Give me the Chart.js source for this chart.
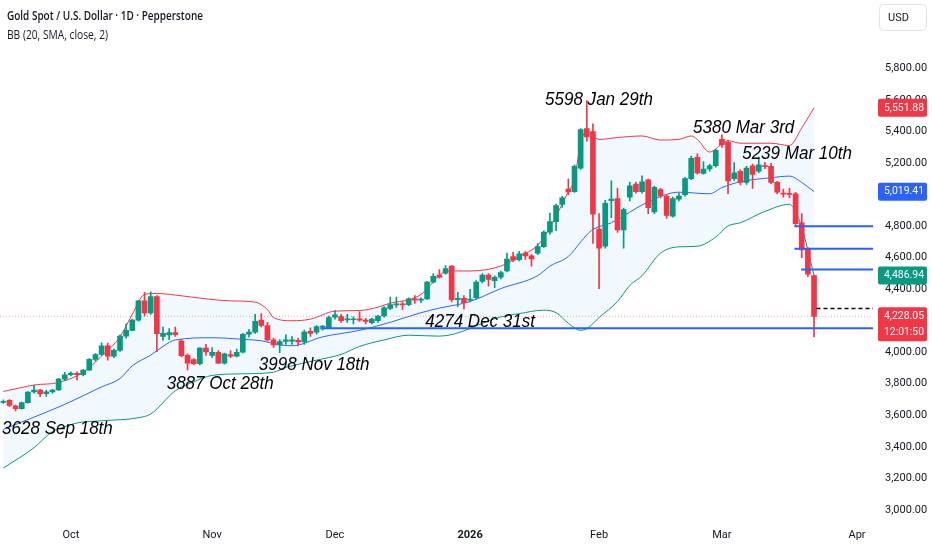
<!DOCTYPE html>
<html>
<head>
<meta charset="utf-8">
<title>Gold Spot / U.S. Dollar · 1D · Pepperstone</title>
<script src="https://cdn.jsdelivr.net/npm/chart.js@4.4.1/dist/chart.umd.min.js"></script>
<style>
  html, body { margin: 0; padding: 0; background: #fff; }
  #wrap { position: relative; width: 932px; height: 550px; }
</style>
</head>
<body>
<div id="wrap"><canvas id="goldChart"></canvas></div>
<script>
// trading days shown on the time axis (weekends, Dec 25 and Jan 1 skipped)
const sepDays = [16,17,18,19,22,23,24,25,26,29,30];
const octDays = [1,2,3,6,7,8,9,10,13,14,15,16,17,20,21,22,23,24,27,28,29,30,31];
const novDays = [3,4,5,6,7,10,11,12,13,14,17,18,19,20,21,24,25,26,27,28];
const decDays = [1,2,3,4,5,8,9,10,11,12,15,16,17,18,19,22,23,24,26,29,30,31];
const janDays = [2,5,6,7,8,9,12,13,14,15,16,19,20,21,22,23,26,27,28,29,30];
const febDays = [2,3,4,5,6,9,10,11,12,13,16,17,18,19,20,23,24,25,26,27];
const marDays = [2,3,4,5,6,9,10,11,12,13,16,17,18,19,20,23,24,25,26,27,30,31];
const aprDays = [1,2,3];
const monthNames = ['Jan','Feb','Mar','Apr','May','Jun','Jul','Aug','Sep','Oct','Nov','Dec'];

// daily candles, Sep 16 2025 .. Mar 23 2026
const opens = [
  3682,3694,3659,3642,3680,3748,3760,3737,3748,3761,
  3829,3857,3866,3857,3886,3955,3986,4041,3975,4012,
  4102,4139,4204,4326,4250,4353,4100,4110,4125,4073,
  3980,3953,3928,4027,3980,4000,3931,3985,3975,4000,
  4114,4128,4204,4170,4078,4047,4068,4070,4075,4065,
  4133,4128,4160,4155,4222,4226,4205,4206,4212,4204,
  4188,4200,4230,4278,4300,4308,4302,4339,4330,4338,
  4445,4490,4502,4547,4333,4343,4330,4347,4449,4490,
  4455,4476,4516,4608,4588,4629,4612,4629,4670,4762,
  4829,4939,5035,5020,5169,5420,5400,4782,4674,4962,
  4976,4776,4984,5067,5020,5094,4890,5033,4992,4863,
  4972,5000,5102,5237,5135,5163,5184,5351,5333,5102,
  5149,5078,5184,5149,5185,5180,5078,5010,5008,5006,
  4822,4659,4486
];
const highs = [
  3698,3700,3665,3684,3750,3790,3765,3760,3765,3835,
  3872,3875,3875,3890,3960,3992,4060,4058,4020,4110,
  4180,4210,4330,4380,4384,4360,4160,4150,4160,4080,
  3990,3960,4030,4050,4030,4010,3995,4010,4020,4120,
  4145,4240,4245,4190,4090,4080,4110,4100,4090,4140,
  4155,4170,4170,4230,4265,4240,4240,4225,4258,4215,
  4215,4235,4290,4350,4350,4320,4345,4360,4345,4450,
  4500,4525,4550,4550,4380,4360,4400,4455,4500,4500,
  4485,4515,4630,4635,4640,4640,4620,4690,4770,4884,
  4940,4990,5100,5190,5420,5598,5450,4880,4965,5088,
  5040,4915,5078,5080,5120,5100,5055,5040,5000,4985,
  5010,5110,5245,5260,5210,5195,5290,5380,5345,5204,
  5160,5180,5195,5239,5205,5200,5085,5035,5040,5015,
  4880,4665,4490
];
const lows = [
  3675,3655,3628,3638,3676,3740,3718,3720,3740,3758,
  3820,3850,3822,3850,3884,3945,3980,3950,3965,4005,
  4090,4135,4198,4230,4240,4004,4075,4080,4100,3970,
  3887,3920,3920,3980,3965,3928,3925,3965,3970,3995,
  4095,4120,4160,4070,4030,3998,4050,4050,4040,4050,
  4100,4115,4140,4150,4210,4190,4190,4180,4195,4180,
  4180,4190,4222,4270,4285,4270,4295,4310,4315,4335,
  4440,4470,4495,4320,4290,4274,4320,4340,4440,4420,
  4410,4465,4510,4575,4580,4590,4547,4620,4665,4750,
  4771,4920,5000,5015,5160,5340,4690,4404,4660,4855,
  4760,4660,4960,5010,5010,4880,4880,4980,4850,4858,
  4960,4990,5095,5130,5130,5150,5175,5300,5006,5090,
  5062,5065,5040,5140,5165,5070,5005,4985,4980,4805,
  4600,4480,4098
];
const closes = [
  3688,3662,3642,3680,3747,3760,3736,3748,3760,3829,
  3857,3866,3857,3886,3955,3985,4041,3975,4012,4102,
  4139,4204,4326,4250,4353,4118,4120,4125,4112,3978,
  3930,3928,4027,4002,4000,3931,3990,3975,4000,4114,
  4128,4196,4170,4078,4047,4067,4078,4078,4065,4128,
  4120,4163,4165,4220,4237,4200,4212,4212,4204,4195,
  4210,4230,4282,4302,4308,4300,4339,4330,4338,4445,
  4482,4476,4531,4333,4343,4315,4338,4445,4490,4462,
  4476,4506,4592,4584,4624,4612,4592,4670,4762,4829,
  4931,4980,5018,5180,5414,5367,4877,4660,4945,4972,
  4776,4905,5057,5020,5082,4918,5047,4992,4869,4976,
  4992,5102,5231,5139,5163,5184,5282,5318,5088,5139,
  5078,5169,5129,5190,5178,5078,5016,5004,5002,4816,
  4649,4496,4228.05
];

// Bollinger Bands (20, SMA, close, 2): [candle index, price]
const bbUpper = [
  [0,3751],[3,3776],[5,3792],[9,3808],[13,3873],[16,3976],[19,4098],[21,4241],[23,4367],[25,4373],
  [28,4363],[33,4339],[37,4326],[41,4318],[43,4271],[44,4220],[47,4200],[50,4210],[54,4261],[58,4265],
  [61,4286],[63,4312],[66,4333],[68,4367],[70,4445],[71,4490],[73,4516],[76,4516],[81,4547],[84,4608],
  [87,4680],[89,4792],[92,5020],[93,5098],[94,5330],[95,5400],[97,5351],[100,5363],[104,5373],[107,5347],
  [110,5351],[112,5373],[113,5351],[115,5271],[117,5322],[118,5343],[120,5327],[125,5327],[128,5312],[130,5424],
  [132,5551.88]
];
const bbBasis = [
  [0,3510],[5,3588],[10,3669],[16,3780],[19,3833],[21,3914],[24,3982],[26,4037],[28,4078],[34,4092],
  [39,4082],[42,4073],[45,4047],[47,4041],[52,4098],[58,4139],[63,4190],[68,4251],[71,4280],[76,4322],
  [81,4404],[87,4486],[89,4547],[92,4608],[94,4700],[95,4745],[96,4780],[99,4822],[105,4955],[110,5016],
  [115,5006],[117,5045],[120,5082],[125,5108],[128,5118],[130,5078],[132,5019.41]
];
const bbLower = [
  [0,3265],[5,3394],[8,3496],[10,3527],[12,3551],[16,3565],[22,3584],[24,3608],[28,3755],[31,3812],
  [34,3853],[39,3863],[44,3873],[46,3904],[47,3914],[51,3950],[55,3986],[58,4037],[62,4078],[66,4108],
  [71,4102],[81,4224],[84,4245],[88,4267],[90,4251],[92,4184],[94,4139],[95,4149],[97,4220],[100,4322],
  [102,4424],[104,4486],[107,4629],[110,4669],[113,4673],[116,4731],[118,4802],[120,4822],[124,4894],[128,4939],
  [129,4894],[130,4792],[131,4649],[132,4486.94]
];

// horizontal levels drawn on the chart
const levelPrices = [4800, 4657, 4526, 4153];
const levelFrom = [128.8, 128.8, 129.9, 51.6];
const rayPrice = 4277;
const rayFrom = 132.4;
const lastPrice = 4228.05;
const countdown = '12:01:50';

// text notes: [text, candle index, price]
const notes = [
  ['5598 Jan 29th', 88.2, 5604],
  ['5380 Mar 3rd', 112.3, 5425],
  ['5239 Mar 10th', 120.3, 5262],
  ['4274 Dec 31st', 68.7, 4196],
  ['3998 Nov 18th', 41.6, 3920],
  ['3887 Oct 28th', 26.6, 3800],
  ['3628 Sep 18th', -0.2, 3516]
];

const priceTicks = [3000,3200,3400,3600,3800,4000,4200,4400,4600,4800,5000,5200,5400,5600,5800];

const GREEN = '#089981';
const RED = '#F23645';
const BLUE = '#2962FF';
const TEXT = '#131722';

const dates = [];
[['2025-09', sepDays], ['2025-10', octDays], ['2025-11', novDays], ['2025-12', decDays],
 ['2026-01', janDays], ['2026-02', febDays], ['2026-03', marDays], ['2026-04', aprDays]]
  .forEach(([m, days]) => days.forEach(d => dates.push(m + '-' + String(d).padStart(2, '0'))));

const monthLabel = {};
dates.forEach((d, i) => {
  if (i === 0 || d.slice(0, 7) === dates[i - 1].slice(0, 7)) return;
  const mo = +d.slice(5, 7);
  monthLabel[i] = mo === 1 ? d.slice(0, 4) : monthNames[mo - 1];
});
const monthStarts = Object.keys(monthLabel).map(Number);

const xMin = -0.54, xMax = 141.6;
const yMin = 2935, yMax = 6118;

const candleIdx = closes.map((c, i) => i);
const candleColors = closes.map((c, i) => c >= opens[i] ? GREEN : RED);
const pts = arr => arr.map(([i, v]) => ({ x: i, y: v }));
const fmt = v => v.toLocaleString('en-US', { minimumFractionDigits: 2, maximumFractionDigits: 2 });

const bandLine = (data, color, extra) => Object.assign({
  type: 'line', data: pts(data), borderColor: color, borderWidth: 1,
  pointRadius: 0, cubicInterpolationMode: 'monotone', fill: false, order: 10
}, extra || {});

const levelSets = levelPrices.map((p, k) => ({
  type: 'line',
  data: [{ x: levelFrom[k], y: p }, { x: xMax, y: p }],
  borderColor: BLUE, borderWidth: 2, pointRadius: 0, fill: false, order: 1
}));

function roundRect(ctx, x, y, w, h, r) {
  ctx.beginPath();
  ctx.moveTo(x + r, y);
  ctx.arcTo(x + w, y, x + w, y + h, r);
  ctx.arcTo(x + w, y + h, x, y + h, r);
  ctx.arcTo(x, y + h, x, y, r);
  ctx.arcTo(x, y, x + w, y, r);
  ctx.closePath();
}

function fitText(ctx, text, x, y, width) {
  const w = ctx.measureText(text).width;
  const s = width && w > width ? width / w : 1;
  ctx.save();
  ctx.translate(x, y);
  ctx.scale(s, 1);
  ctx.fillText(text, 0, 0);
  ctx.restore();
}

const overlay = {
  id: 'overlay',
  afterDraw(chart) {
    const ctx = chart.ctx;
    const xs = chart.scales.x, ys = chart.scales.y;
    ctx.save();
    ctx.textBaseline = 'middle';
    ctx.textAlign = 'left';

    // header
    ctx.fillStyle = TEXT;
    ctx.font = '600 12px "Open Sans", sans-serif';
    fitText(ctx, 'Gold Spot / U.S. Dollar · 1D · Pepperstone', 7, 17, 196);
    ctx.font = '12px "Open Sans", sans-serif';
    fitText(ctx, 'BB (20, SMA, close, 2)', 7, 36, 101);

    // notes
    ctx.fillStyle = '#000';
    ctx.font = 'italic 18.5px "Liberation Sans", sans-serif';
    notes.forEach(([t, i, v]) => {
      const w = ctx.measureText(t).width * 0.92;
      fitText(ctx, t, xs.getPixelForValue(i), ys.getPixelForValue(v), w);
    });

    // price scale tags
    const bx = 878, bw = 49;
    ctx.font = '11px Roboto, sans-serif';
    const tag = (value, bg, lines) => {
      const y = ys.getPixelForValue(value);
      const h = 18 + (lines.length - 1) * 16;
      ctx.fillStyle = bg;
      roundRect(ctx, bx, y - 9, bw, h, 2);
      ctx.fill();
      ctx.fillStyle = '#fff';
      lines.forEach((t, k) => fitText(ctx, t, 884, y + k * 16, 40));
    };
    tag(bbUpper[bbUpper.length - 1][1], RED, [fmt(bbUpper[bbUpper.length - 1][1])]);
    tag(bbBasis[bbBasis.length - 1][1], BLUE, [fmt(bbBasis[bbBasis.length - 1][1])]);
    tag(bbLower[bbLower.length - 1][1], GREEN, [fmt(bbLower[bbLower.length - 1][1])]);
    tag(lastPrice, RED, [fmt(lastPrice), countdown]);

    // currency box
    ctx.fillStyle = '#fff';
    ctx.strokeStyle = '#e0e3eb';
    ctx.lineWidth = 1;
    roundRect(ctx, 879.5, 4.5, 47, 26, 4);
    ctx.fill();
    ctx.stroke();
    ctx.fillStyle = TEXT;
    ctx.font = '11px Roboto, sans-serif';
    ctx.fillText('USD', 888, 18);
    ctx.restore();
  }
};

new Chart(document.getElementById('goldChart'), {
  type: 'bar',
  data: {
    datasets: [
      bandLine(bbUpper, RED, { fill: '+2', backgroundColor: 'rgba(33,150,243,0.06)' }),
      bandLine(bbBasis, BLUE),
      bandLine(bbLower, GREEN),
      {
        type: 'line',
        data: [{ x: xMin, y: lastPrice }, { x: xMax, y: lastPrice }],
        borderColor: 'rgba(242,54,69,0.45)', borderWidth: 1, borderDash: [1, 2],
        pointRadius: 0, fill: false, order: 9
      },
      {
        label: 'wicks',
        data: candleIdx.map(i => ({ x: i, y: [lows[i], highs[i]] })),
        backgroundColor: candleColors, barThickness: 1, grouped: false,
        borderWidth: 0, order: 3
      },
      {
        label: 'bodies',
        data: candleIdx.map(i => ({ x: i, y: [opens[i], closes[i]] })),
        backgroundColor: candleColors, barThickness: 5, minBarLength: 1, grouped: false,
        borderWidth: 0, order: 2
      },
      ...levelSets,
      {
        type: 'line',
        data: [{ x: rayFrom, y: rayPrice }, { x: xMax, y: rayPrice }],
        borderColor: '#000', borderWidth: 1.5, borderDash: [4, 3],
        pointRadius: 0, fill: false, order: 1
      }
    ]
  },
  options: {
    responsive: true,
    maintainAspectRatio: false,
    animation: false,
    layout: { padding: 0 },
    plugins: { legend: { display: false }, tooltip: { enabled: false } },
    scales: {
      x: {
        type: 'linear', min: xMin, max: xMax, offset: false,
        grid: { display: false, drawTicks: false }, border: { display: false },
        afterBuildTicks: s => { s.ticks = monthStarts.map(i => ({ value: i })); },
        afterFit: s => { s.height = 30; },
        ticks: {
          autoSkip: false, maxRotation: 0, padding: 9, color: TEXT,
          font: c => ({
            family: 'Roboto', size: 11,
            weight: c.tick && /^\d{4}$/.test(monthLabel[c.tick.value] || '') ? 'bold' : 'normal'
          }),
          callback: v => monthLabel[v] || ''
        }
      },
      y: {
        position: 'right', min: yMin, max: yMax,
        grid: { display: false, drawTicks: false }, border: { display: false },
        afterBuildTicks: s => { s.ticks = priceTicks.map(v => ({ value: v })); },
        afterFit: s => { s.width = 59; },
        ticks: {
          padding: 12, color: TEXT,
          font: { family: 'Roboto', size: 11 },
          callback: v => fmt(v)
        }
      }
    }
  },
  plugins: [overlay]
});
</script>
</body>
</html>
